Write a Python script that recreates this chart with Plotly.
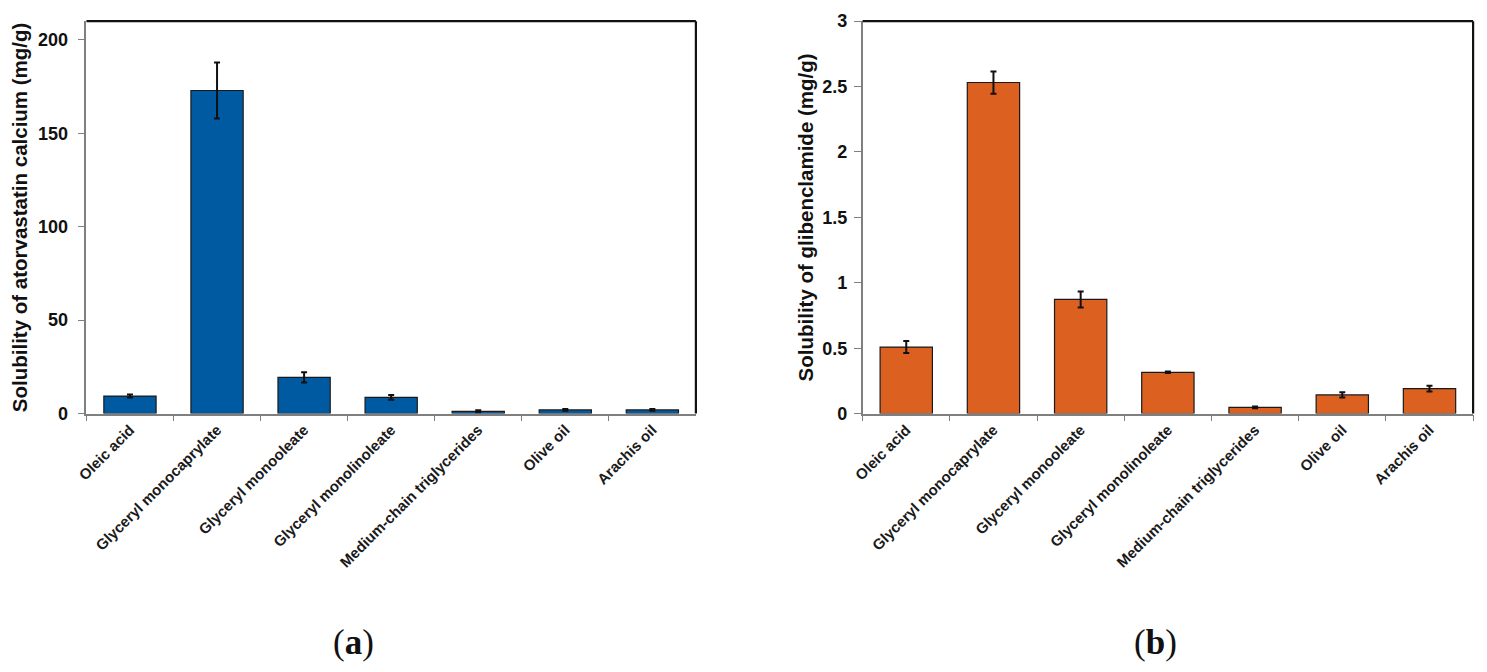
import plotly.graph_objects as go

categories = ["Oleic acid", "Glyceryl monocaprylate", "Glyceryl monooleate",
              "Glyceryl monolinoleate", "Medium-chain triglycerides", "Olive oil", "Arachis oil"]
atorvastatin = [9.4, 172.9, 19.4, 8.7, 1.25, 2.0, 2.0]
atorvastatin_err = [0.8, 15.0, 2.7, 1.3, 0.5, 0.5, 0.5]
glibenclamide = [0.509, 2.531, 0.873, 0.316, 0.048, 0.143, 0.191]
glibenclamide_err = [0.046, 0.085, 0.061, 0.006, 0.006, 0.02, 0.022]
left_ticks = [0, 50, 100, 150, 200]
right_ticks = [0, 0.5, 1, 1.5, 2, 2.5, 3]
right_ticktext = ["0", "0.5", "1", "1.5", "2", "2.5", "3"]

left_title = "Solubility of atorvastatin calcium (mg/g)"
right_title = "Solubility of glibenclamide (mg/g)"

BLUE = "#005AA2"
ORANGE = "#DC6020"
FONT = "Liberation Sans"

fig = go.Figure()

fig.add_trace(go.Bar(
    x=categories, y=atorvastatin, xaxis="x", yaxis="y",
    marker=dict(color=BLUE, line=dict(color="#1a1a1a", width=1.2)),
    error_y=dict(type="data", array=atorvastatin_err, visible=True,
                 color="#111111", thickness=2, width=3),
    width=0.6, showlegend=False, hoverinfo="skip",
))
fig.add_trace(go.Bar(
    x=categories, y=glibenclamide, xaxis="x2", yaxis="y2",
    marker=dict(color=ORANGE, line=dict(color="#1a1a1a", width=1.2)),
    error_y=dict(type="data", array=glibenclamide_err, visible=True,
                 color="#111111", thickness=2, width=3),
    width=0.6, showlegend=False, hoverinfo="skip",
))

W, H = 1487, 672
xl = (76 / W, 690 / W)
xr = (858 / W, 1473 / W)
yd = (1 - 416 / H, 1 - 11.5 / H)

tickfont_x = dict(family=FONT, size=15, color="#1a1a1a", weight="bold")
tickfont_y = dict(family=FONT, size=18, color="#111111", weight="bold")
titlefont = dict(family=FONT, size=20.5, color="#111111", weight="bold")

common_x = dict(
    type="category", tickangle=-45, tickfont=tickfont_x,
    showline=True, linecolor="#7f7f7f", linewidth=1.5,
    ticks="outside", tickson="boundaries", ticklen=6, tickcolor="#7f7f7f", tickwidth=1,
    showgrid=False, zeroline=False, fixedrange=True,
)
common_y = dict(
    showline=True, linecolor="#7f7f7f", linewidth=1.5,
    ticks="outside", ticklen=7, tickcolor="#7f7f7f", tickwidth=1,
    showgrid=False, zeroline=False, tickfont=tickfont_y, tickmode="array",
    fixedrange=True,
)

fig.update_layout(
    width=W, height=H,
    margin=dict(l=0, r=0, t=0, b=0),
    paper_bgcolor="white", plot_bgcolor="white",
    xaxis=dict(domain=xl, anchor="y", **common_x),
    yaxis=dict(domain=yd, anchor="x", range=[0, 210], tickvals=left_ticks,
               ticklabelstandoff=6,
               title=dict(text=left_title, font=titlefont, standoff=5), **common_y),
    xaxis2=dict(domain=xr, anchor="y2", **common_x),
    yaxis2=dict(domain=yd, anchor="x2", range=[0, 3], tickvals=right_ticks,
                ticktext=right_ticktext, ticklabelstandoff=3,
                title=dict(text=right_title, font=titlefont, standoff=3), **common_y),
)

# black top and right frame lines
for xa, ya in (("x", "y"), ("x2", "y2")):
    fig.add_shape(type="line", xref=xa + " domain", yref=ya + " domain",
                  x0=0, x1=1, y0=1, y1=1, line=dict(color="#111111", width=2.2))
    fig.add_shape(type="line", xref=xa + " domain", yref=ya + " domain",
                  x0=1, x1=1, y0=0, y1=1, line=dict(color="#111111", width=2.2))

fig.add_annotation(text="(<b>a</b>)", x=345 / W, y=1 - 652 / H, xref="paper", yref="paper",
                   xanchor="center", yanchor="middle",
                   showarrow=False, font=dict(family="Liberation Serif", size=35, color="#111111"))
fig.add_annotation(text="(<b>b</b>)", x=1153 / W, y=1 - 652 / H, xref="paper", yref="paper",
                   xanchor="center", yanchor="middle",
                   showarrow=False, font=dict(family="Liberation Serif", size=35, color="#111111"))

fig.write_html("out.html",
               config={"displayModeBar": False},
               post_script="document.body.style.margin='0';document.body.style.overflow='hidden';")
